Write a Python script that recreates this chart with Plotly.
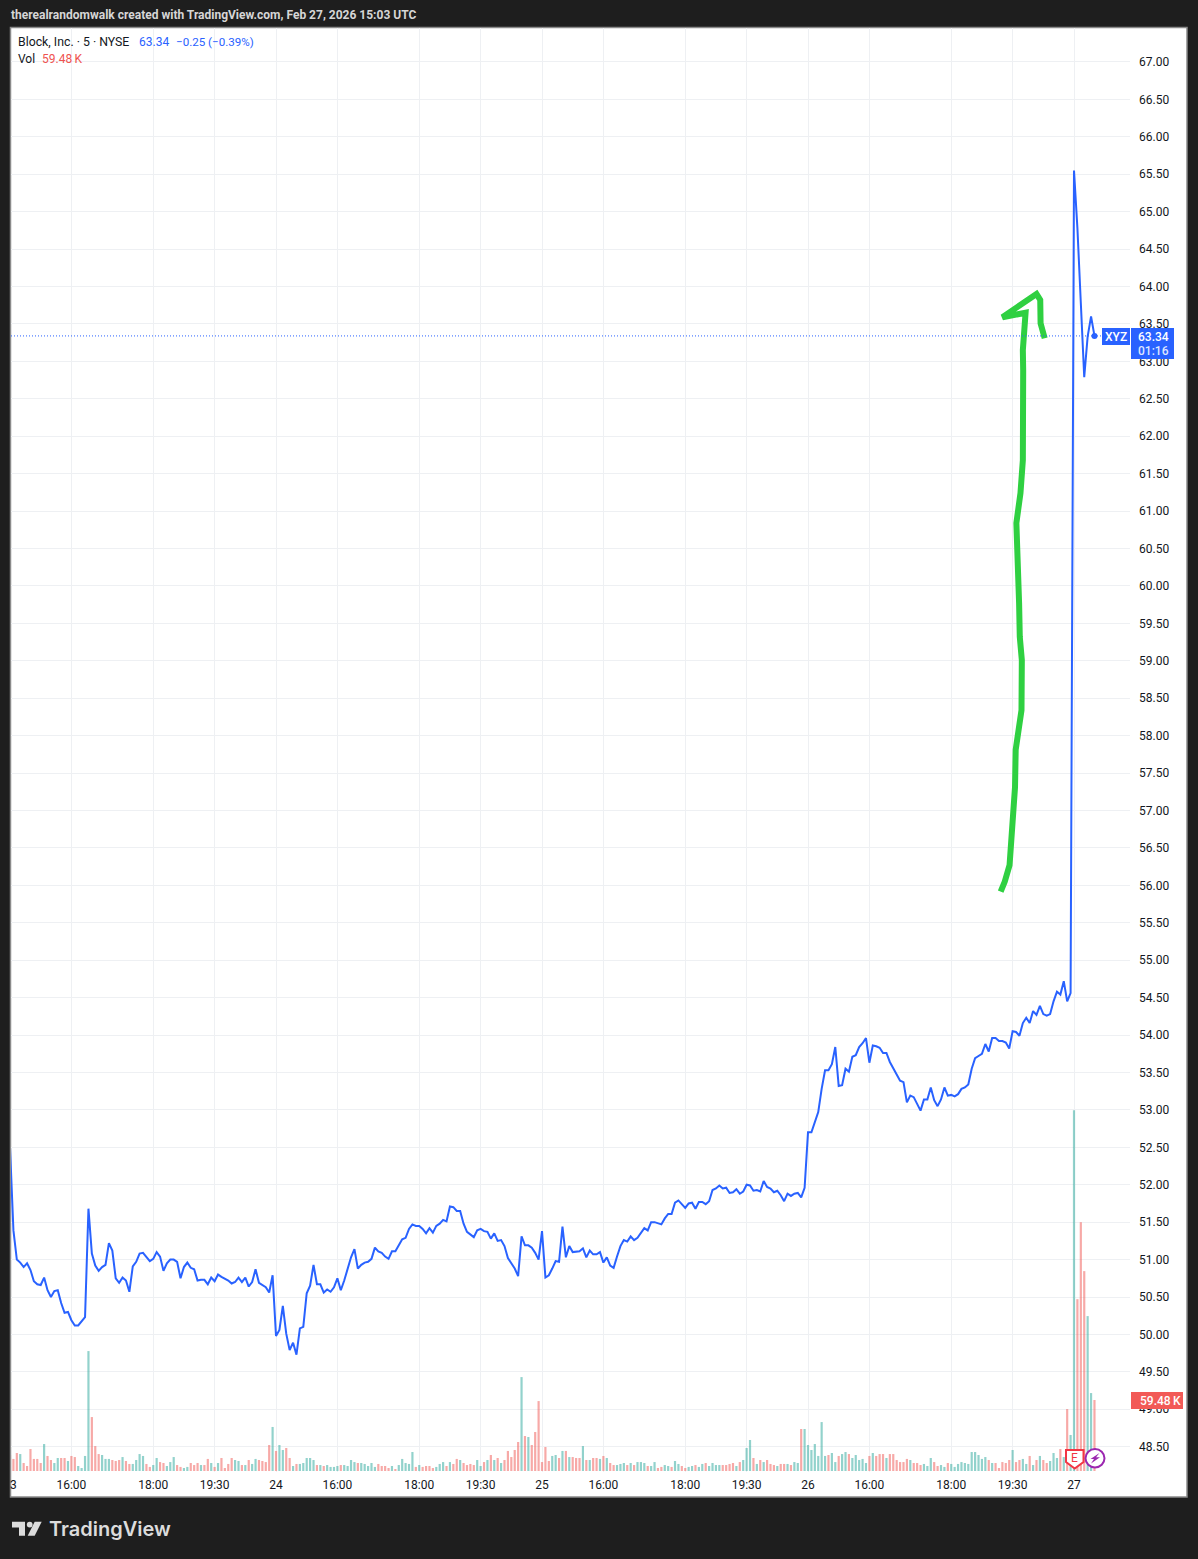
import plotly.graph_objects as go

TITLE = "therealrandomwalk created with TradingView.com, Feb 27, 2026 15:03 UTC"
LAST_PRICE = 63.34
LAST_VOLUME_LABEL = "59.48\u2009K"

PRICE = [
 52.5,51.39,51.0,50.96,50.90,50.95,50.86,50.71,50.67,50.66,
 50.76,50.59,50.5,50.58,50.59,50.42,50.29,50.30,50.19,50.12,
 50.12,50.17,50.23,51.68,51.08,50.92,50.85,50.90,50.93,51.22,
 51.12,50.75,50.69,50.76,50.72,50.57,50.91,50.97,51.08,51.09,
 51.03,50.98,51.01,51.10,51.04,50.85,50.95,51.0,51.0,50.97,
 50.75,50.90,50.96,50.89,50.87,50.72,50.73,50.73,50.67,50.76,
 50.71,50.80,50.77,50.75,50.72,50.68,50.70,50.76,50.70,50.76,
 50.64,50.70,50.87,50.69,50.66,50.63,50.56,50.79,49.98,50.06,
 50.38,50.01,49.79,49.89,49.73,50.08,50.10,50.55,50.65,50.93,
 50.67,50.67,50.56,50.60,50.57,50.63,50.75,50.59,50.72,50.87,
 51.03,51.14,50.88,50.93,50.96,50.97,51.01,51.16,51.11,51.09,
 51.04,51.01,51.11,51.11,51.19,51.27,51.29,51.41,51.47,51.45,
 51.45,51.41,51.35,51.42,51.36,51.45,51.48,51.53,51.51,51.71,
 51.70,51.65,51.65,51.48,51.37,51.33,51.30,51.39,51.41,51.38,
 51.37,51.28,51.35,51.25,51.26,51.18,51.02,50.95,50.88,50.78,
 51.31,51.19,51.19,51.16,51.09,51.0,51.38,50.76,50.79,50.88,
 50.98,50.97,51.44,51.03,51.18,51.10,51.11,51.11,51.15,51.03,
 51.12,51.07,51.07,51.10,50.96,51.03,50.92,50.89,51.04,51.18,
 51.26,51.24,51.31,51.26,51.29,51.36,51.42,51.39,51.50,51.50,
 51.49,51.47,51.55,51.61,51.61,51.76,51.79,51.74,51.69,51.75,
 51.76,51.68,51.77,51.77,51.74,51.78,51.93,51.95,51.99,51.95,
 51.96,51.89,51.90,51.94,51.88,51.91,52.0,51.99,51.92,51.93,
 51.91,52.05,51.97,51.95,51.90,51.92,51.86,51.78,51.88,51.85,
 51.88,51.89,51.83,51.96,52.70,52.70,52.84,52.97,53.28,53.53,
 53.53,53.61,53.84,53.32,53.33,53.55,53.51,53.71,53.73,53.84,
 53.89,53.96,53.63,53.86,53.85,53.83,53.76,53.76,53.64,53.56,
 53.49,53.39,53.37,53.10,53.19,53.17,53.08,52.99,53.14,53.14,
 53.30,53.13,53.05,53.14,53.30,53.19,53.20,53.18,53.21,53.28,
 53.30,53.34,53.55,53.69,53.72,53.75,53.88,53.78,53.96,53.96,
 53.92,53.92,53.90,53.82,54.05,54.04,53.99,54.16,54.23,54.16,
 54.32,54.27,54.39,54.28,54.26,54.28,54.45,54.58,54.54,54.72,
 54.45,54.56,65.55,64.78,63.78,62.79,63.33,63.60,63.34,
]

VOLUME_K = [
 13.4,10.1,15.1,14.2,6.7,4.2,18.4,10.1,10.1,6.7,
 22.6,12.6,9.2,6.7,10.9,10.9,10.9,8.4,12.6,11.7,
 4.2,2.5,12.6,100.5,45.2,20.9,14.2,13.4,10.1,10.1,
 9.2,8.4,9.2,11.7,8.4,5.9,5.9,9.2,14.2,12.6,
 5.9,3.4,5.0,10.9,7.5,6.7,4.2,7.5,11.7,5.0,
 3.4,2.5,3.4,6.7,5.0,6.7,5.0,5.0,10.1,6.7,
 3.4,6.7,10.9,2.5,5.9,10.9,9.2,8.4,5.0,5.0,
 9.2,5.9,10.1,9.2,8.4,7.5,21.8,36.9,16.8,21.8,
 17.6,19.3,10.9,4.2,5.9,5.9,6.7,10.9,10.9,9.2,
 5.0,5.0,4.2,5.0,3.4,3.4,4.2,5.0,5.0,4.2,
 9.2,7.5,6.7,6.7,5.9,4.2,6.7,3.4,5.9,4.2,
 4.2,2.5,4.2,1.7,5.0,10.1,6.7,5.9,15.9,3.4,
 5.0,3.4,4.2,4.2,2.5,3.4,5.9,7.5,4.2,7.5,
 5.9,10.1,9.2,6.7,5.0,5.9,5.0,9.2,4.2,7.5,
 9.2,13.4,9.2,10.9,6.7,9.2,16.8,11.7,17.6,24.3,
 78.7,29.3,28.5,21.8,32.7,58.6,7.5,20.1,8.4,12.6,
 13.4,10.9,16.8,16.8,11.7,11.7,10.9,10.9,20.9,9.2,
 9.2,10.9,10.9,10.1,12.6,10.9,6.7,5.0,5.0,5.9,
 6.7,5.0,6.7,5.0,7.5,7.5,6.7,4.2,4.2,7.5,
 2.5,3.4,5.0,4.2,3.4,8.4,5.9,4.2,2.5,3.4,
 4.2,5.0,3.4,5.9,6.7,4.2,6.7,5.0,5.0,5.0,
 5.0,5.9,6.7,4.2,7.5,9.2,19.3,26.0,10.9,5.9,
 9.2,7.5,9.2,5.9,5.0,4.2,5.9,5.9,5.9,5.0,
 7.5,6.7,35.2,35.2,21.8,17.6,22.6,12.6,41.0,12.6,
 13.4,15.1,7.5,12.6,14.2,15.9,14.2,10.9,13.4,9.2,
 10.1,6.7,12.6,15.1,12.6,14.2,14.2,10.9,14.2,14.2,
 9.2,7.5,7.5,10.1,9.2,6.7,6.7,5.0,5.9,4.2,
 10.9,7.5,4.2,5.0,3.4,6.7,5.9,3.4,5.9,7.5,
 6.7,5.9,15.9,15.9,13.4,10.1,11.7,9.2,6.7,6.7,
 2.5,7.5,6.7,9.2,17.6,7.5,9.2,10.1,5.9,12.6,
 5.0,9.2,12.6,9.2,6.7,8.4,15.1,10.9,18.4,11.7,
 51.9,30.2,302.3,144.0,208.5,167.5,129.8,65.3,59.48,
]

# G = up bar, R = down bar, ten bars per chunk
VOLUME_DIR = "".join([
 "RRRGRRRRRR", "GRRGGRRGRR", "GGGGRRRGGG", "RRRGRRGGGG", "RRGGRRGGGR",
 "RGGRRRGRRG", "RGRRRRGGRG", "RGGRRRRGRG", "GRRGRGGGGG", "RGRGGGGRGG",
 "GGRGGGGGRR", "RRGRGGGGGR", "GRRRRGGGRG", "RRGRRRRGGR", "GRGRGRRRRR",
 "GRGRRRRRRG", "GRGRGRRRGR", "GRRGRGRRGG", "GRGRGGGRGG", "RRGGRGGRRG",
 "GRGGRGGGGR", "RRRGRGGGRG", "RGRRRGRRGR", "GGRGGGGGGG", "RGGRGGRGGG",
 "GGRGRRRGRR", "RRRRGRRRGG", "GRRGGRGGGG", "GGGGGGGRGR", "RRRRGRRGGR",
 "GRGRRGGGRG", "RGGRRRGGR",
])

TIME_TICK_BARS = [18, 42, 60, 78, 96, 120, 138, 156, 174, 198, 216, 234, 252, 276, 294, 312]
TIME_TICK_TEXT = ["16:00", "18:00", "19:30", "24", "16:00", "18:00", "19:30", "25",
                  "16:00", "18:00", "19:30", "26", "16:00", "18:00", "19:30", "27"]
PRICE_TICKS = [48.5 + 0.5 * k for k in range(38)]

# the hand-drawn green arrow, in bar number / price
ARROW_BAR = [290.5,291.7,293.1,293.6,293.9,294.7,294.9,295.6,296.6,296.7,296.1,295.9,295.6,
             295.1,296.3,297.0,297.1,297.0,297.8,291.0,301.0,302.1,302.2,303.4]
ARROW_PRICE = [55.915,56.05,56.27,56.63,56.97,57.31,57.81,58.05,58.34,59.01,59.32,59.77,60.17,
               60.84,61.24,61.68,62.88,63.15,63.65,63.59,63.90,63.82,63.51,63.31]

W, H = 1198, 1559
L, R, T, B = 11, 1130, 28, 1472
FONT = "Roboto"
INK = "#131722"
BLUE = "#2962ff"
RED = "#ef5350"
UP = "rgba(38,166,154,0.5)"
DOWN = "rgba(239,83,80,0.5)"
GRID = "#eef0f3"
LOGO = "#dcdcdc"


def px(x):
    return (x - L) / (R - L)


def py(y):
    return (B - y) / (B - T)


def path(points):
    return "M " + " L ".join(f"{px(a):.5f},{py(b):.5f}" for a, b in points) + " Z"


def rect(x0, y0, x1, y1, fill, line=None, width=0, layer="above"):
    return dict(type="rect", xref="paper", yref="paper", x0=px(x0), x1=px(x1), y0=py(y0), y1=py(y1),
                fillcolor=fill, line=dict(color=line or fill, width=width), layer=layer)


def note(x, y, text, color=INK, size=12, anchor="left", family=FONT, weight="normal"):
    return dict(xref="paper", yref="paper", x=px(x), y=py(y), text=text, showarrow=False,
                xanchor=anchor, yanchor="middle", align=anchor, borderpad=0,
                font=dict(family=family, size=size, color=color, weight=weight))


bars = list(range(len(PRICE)))
fig = go.Figure()
fig.add_trace(go.Bar(x=bars, y=VOLUME_K, yaxis="y",
                     marker=dict(color=[UP if d == "G" else DOWN for d in VOLUME_DIR], line_width=0),
                     hoverinfo="skip"))
fig.add_trace(go.Scatter(x=bars, y=PRICE, yaxis="y2", mode="lines",
                         line=dict(color=BLUE, width=2), hoverinfo="skip"))
fig.add_trace(go.Scatter(x=bars[-1:], y=PRICE[-1:], yaxis="y2", mode="markers",
                         marker=dict(color=BLUE, size=6), hoverinfo="skip"))
fig.add_trace(go.Scatter(x=ARROW_BAR, y=ARROW_PRICE, yaxis="y2", mode="lines",
                         line=dict(color="#2fd041", width=6), hoverinfo="skip"))

shapes = [
    rect(10.5, 27.5, 1187, 1497, "#ffffff", "#8a8a8a", 1.5, "below"),
    dict(type="line", xref="paper", yref="y2", x0=0, x1=1, y0=LAST_PRICE, y1=LAST_PRICE,
         line=dict(color=BLUE, width=1, dash="1px,2px"), layer="above"),
    rect(1102, 328, 1130, 345, BLUE),
    rect(1131, 328, 1174, 359, BLUE),
    rect(1131, 1392, 1183, 1409, "#f25a57"),
    dict(type="path", xref="paper", yref="paper",
         path=path([(1066, 1450), (1083.5, 1450), (1083.5, 1462), (1074.7, 1468.5), (1066, 1462)]),
         fillcolor="#ffffff", line=dict(color="#f23645", width=2), layer="above"),
    dict(type="circle", xref="paper", yref="paper", x0=px(1085.5), x1=px(1104.5), y0=py(1449), y1=py(1467.5),
         fillcolor="#ffffff", line=dict(color="#9c27b0", width=2), layer="above"),
    dict(type="path", xref="paper", yref="paper",
         path=path([(1099.5, 1453), (1090.5, 1459), (1094, 1459), (1091, 1463.5),
                    (1100, 1457.3), (1096, 1457.3)]),
         fillcolor="#9c27b0", line=dict(width=0), layer="above"),
    # TradingView logo mark
    dict(type="path", xref="paper", yref="paper",
         path=path([(12, 1521.7), (25, 1521.7), (25, 1535.7), (19, 1535.7), (19, 1527.5), (12, 1527.5)]),
         fillcolor=LOGO, line=dict(width=0), layer="above"),
    dict(type="circle", xref="paper", yref="paper", x0=px(26.8), x1=px(32.6), y0=py(1521.7), y1=py(1527.5),
         fillcolor=LOGO, line=dict(width=0), layer="above"),
    dict(type="path", xref="paper", yref="paper",
         path=path([(34.7, 1521.7), (41.7, 1521.7), (34.7, 1535.7), (27.7, 1535.7)]),
         fillcolor=LOGO, line=dict(width=0), layer="above"),
]

annotations = [
    note(9.5, 14.5, TITLE, "#d6d6d6", weight=700),
    note(17.2, 42, "Block, Inc. · 5 · NYSE", size=12.3),
    note(138.2, 42, "63.34", BLUE),
    note(175.2, 42, "−0.25 (−0.39%)", BLUE, size=11.6),
    note(17.2, 59, "Vol"),
    note(41.2, 59, "59.48\u2009K", RED),
    note(13, 1484.5, "3", anchor="center"),
    note(1116, 336.5, "XYZ", "#ffffff", weight=500, anchor="center"),
    note(1153.5, 336.5, "63.34", "#ffffff", weight=500, anchor="center"),
    note(1153.5, 351, "01:16", "#dfe6ff", weight=500, anchor="center"),
    note(1138.5, 1400.5, LAST_VOLUME_LABEL, "#ffffff", weight=500),
    note(1074.7, 1458, "E", "#f23645", anchor="center"),
    note(48, 1529, "TradingView", LOGO, size=20, family="Inter", weight=600),
]

fig.update_layout(
    width=W, height=H, autosize=False, showlegend=False, bargap=0.36,
    paper_bgcolor="#1e1e1e", plot_bgcolor="rgba(0,0,0,0)",
    margin=dict(l=L, r=W - R, t=T, b=H - B, pad=0),
    font=dict(family=FONT, size=12, color=INK),
    shapes=shapes, annotations=annotations,
    xaxis=dict(range=[0.29, 328.42], tickmode="array", tickvals=TIME_TICK_BARS, ticktext=TIME_TICK_TEXT,
               showgrid=True, gridcolor=GRID, gridwidth=1, zeroline=False, showline=False,
               ticks="", ticklabelstandoff=4, automargin=False,
               tickfont=dict(family=FONT, size=12, color=INK)),
    yaxis=dict(range=[-0.84, 1209.2], visible=False, showgrid=False, zeroline=False, fixedrange=True),
    yaxis2=dict(range=[48.162, 67.454], overlaying="y", side="right", anchor="x",
                tickmode="array", tickvals=PRICE_TICKS, ticktext=[f"{v:.2f}" for v in PRICE_TICKS],
                showgrid=True, gridcolor=GRID, gridwidth=1, zeroline=False, showline=False,
                ticks="", ticklabelstandoff=8, automargin=False,
                tickfont=dict(family=FONT, size=12, color=INK)),
)

assert len(PRICE) == 319 and len(VOLUME_K) == 319, (len(PRICE), len(VOLUME_K))
assert len(VOLUME_DIR) == 319, len(VOLUME_DIR)

fig.write_html(
    "out.html",
    config=dict(displayModeBar=False),
    post_script="document.body.style.margin='0';document.body.style.background='#1e1e1e';"
                "document.documentElement.style.overflow='hidden';",
)
